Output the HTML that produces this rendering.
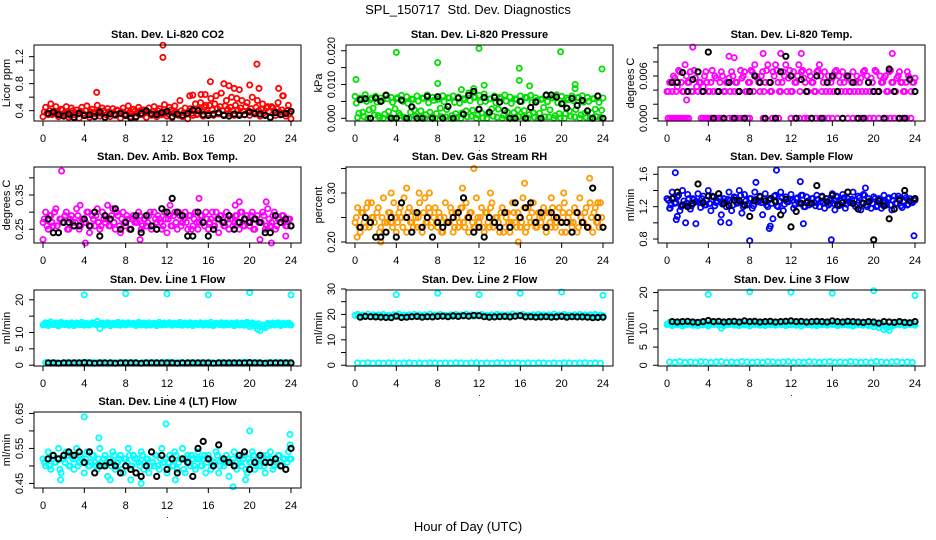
<!DOCTYPE html>
<html><head><meta charset="utf-8"><title>SPL_150717 Std. Dev. Diagnostics</title>
<style>
html,body{margin:0;padding:0;background:#fff;}
svg{display:block;font-family:"Liberation Sans",sans-serif;}
</style></head>
<body>
<svg id="chart" width="936" height="540" viewBox="0 0 936 540" xmlns="http://www.w3.org/2000/svg">
<rect x="0" y="0" width="936" height="540" fill="#fff"/>
<text x="468" y="14" font-size="13" text-anchor="middle">SPL_150717&#160;&#160;Std. Dev. Diagnostics</text>
<text x="468" y="531" font-size="13" text-anchor="middle">Hour of Day (UTC)</text>
</svg>
<script>
const hoursQ = [0,0.25,0.5,0.75,1,1.25,1.5,1.75,2,2.25,2.5,2.75,3,3.25,3.5,3.75,4,4.25,4.5,4.75,5,5.25,5.5,5.75,6,6.25,6.5,6.75,7,7.25,7.5,7.75,8,8.25,8.5,8.75,9,9.25,9.5,9.75,10,10.25,10.5,10.75,11,11.25,11.5,11.75,12,12.25,12.5,12.75,13,13.25,13.5,13.75,14,14.25,14.5,14.75,15,15.25,15.5,15.75,16,16.25,16.5,16.75,17,17.25,17.5,17.75,18,18.25,18.5,18.75,19,19.25,19.5,19.75,20,20.25,20.5,20.75,21,21.25,21.5,21.75,22,22.25,22.5,22.75,23,23.25,23.5,23.75,24];
const hoursQ2 = [0.125,0.375,0.625,0.875,1.125,1.375,1.625,1.875,2.125,2.375,2.625,2.875,3.125,3.375,3.625,3.875,4.125,4.375,4.625,4.875,5.125,5.375,5.625,5.875,6.125,6.375,6.625,6.875,7.125,7.375,7.625,7.875,8.125,8.375,8.625,8.875,9.125,9.375,9.625,9.875,10.125,10.375,10.625,10.875,11.125,11.375,11.625,11.875,12.125,12.375,12.625,12.875,13.125,13.375,13.625,13.875,14.125,14.375,14.625,14.875,15.125,15.375,15.625,15.875,16.125,16.375,16.625,16.875,17.125,17.375,17.625,17.875,18.125,18.375,18.625,18.875,19.125,19.375,19.625,19.875,20.125,20.375,20.625,20.875,21.125,21.375,21.625,21.875,22.125,22.375,22.625,22.875,23.125,23.375,23.625,23.875];
const hoursHalf = [0.5,1,1.5,2,2.5,3,3.5,4,4.5,5,5.5,6,6.5,7,7.5,8,8.5,9,9.5,10,10.5,11,11.5,12,12.5,13,13.5,14,14.5,15,15.5,16,16.5,17,17.5,18,18.5,19,19.5,20,20.5,21,21.5,22,22.5,23,23.5,24];
const hoursBase = [0.25,0.75,1.25,1.75,2.25,2.75,3.25,3.75,4.25,4.75,5.25,5.75,6.25,6.75,7.25,7.75,8.25,8.75,9.25,9.75,10.25,10.75,11.25,11.75,12.25,12.75,13.25,13.75,14.25,14.75,15.25,15.75,16.25,16.75,17.25,17.75,18.25,18.75,19.25,19.75,20.25,20.75,21.25,21.75,22.25,22.75,23.25,23.75];
const xTicks = [0,4,8,12,16,20,24];

// CO2
const co2Band = [0.31,0.45,0.34,0.50,0.36,0.46,0.31,0.42,0.35,0.46,0.30,0.44,0.34,0.41,0.29,0.45,0.33,0.47,0.30,0.42,
0.36,0.48,0.32,0.44,0.30,0.43,0.31,0.43,0.33,0.40,0.29,0.44,0.35,0.47,0.31,0.42,0.30,0.45,0.34,0.41,
0.30,0.44,0.33,0.46,0.31,0.43,0.34,0.49,0.32,0.45,0.30,0.47,0.35,0.55,0.31,0.44,0.28,0.43,0.33,0.50,
0.35,0.52,0.32,0.48,0.36,0.58,0.33,0.62,0.35,0.66,0.34,0.55,0.36,0.60,0.33,0.58,0.35,0.55,0.34,0.52,
0.33,0.60,0.35,0.55,0.32,0.50,0.34,0.46,0.30,0.44,0.33,0.52,0.35,0.62,0.32,0.48,0.28];
const co2Band2 = [0.38,0.36,0.40,0.34,0.39,0.37,0.35,0.41,0.36,0.38,0.33,0.40,0.37,0.35,0.39,0.36,0.40,0.34,0.38,0.37,
0.35,0.39,0.36,0.40,0.34,0.38,0.37,0.35,0.41,0.36,0.38,0.33,0.40,0.37,0.35,0.39,0.36,0.40,0.34,0.38,
0.37,0.35,0.39,0.36,0.40,0.34,0.38,0.37,0.35,0.41,0.36,0.38,0.33,0.40,0.37,0.35,0.39,0.36,0.40,0.34,
0.42,0.39,0.45,0.40,0.48,0.41,0.50,0.43,0.46,0.40,0.47,0.42,0.45,0.40,0.48,0.41,0.44,0.39,0.46,0.40,
0.43,0.38,0.45,0.40,0.42,0.37,0.44,0.39,0.46,0.40,0.43,0.38,0.41,0.37,0.40,0.36];
const co2OutHours = [5.2,11.6,11.6,14.2,14.5,15.3,15.7,16.2,17.5,18.0,18.5,19.0,20.0,20.7,20.9,22.8,23.2];
const co2OutVals = [0.67,1.37,1.19,0.62,0.63,0.64,0.64,0.83,0.80,0.77,0.73,0.71,0.78,1.09,0.73,0.73,0.62];
const co2Black = [0.36,0.38,0.34,0.32,0.35,0.30,0.36,0.33,0.34,0.31,0.38,0.30,0.35,0.34,0.36,0.33,0.29,0.31,0.36,0.40,0.35,0.34,0.37,0.39,0.31,0.35,0.33,0.36,0.41,0.40,0.34,0.33,0.35,0.37,0.33,0.32,0.35,0.33,0.34,0.38,0.36,0.35,0.33,0.30,0.37,0.34,0.36,0.39];

// Pressure
const presBand = [0.0065,0.0002,0.006,0.0018,0.007,0.0,0.0055,0.003,0.0065,0.0008,0.006,0.0,0.007,0.002,0.0062,0.0,0.0058,0.0015,0.0068,0.0003,
0.0064,0.0,0.0057,0.0025,0.0066,0.0005,0.006,0.0,0.0069,0.0018,0.0062,0.0,0.0056,0.003,0.0067,0.0004,0.0061,0.0,0.0066,0.0014,
0.0063,0.0,0.0058,0.0022,0.0075,0.0006,0.0062,0.0,0.0068,0.0016,0.0072,0.0,0.0057,0.0028,0.0066,0.0003,0.0062,0.0,0.0069,0.0019,
0.0063,0.0,0.0058,0.0025,0.0066,0.0005,0.0062,0.0,0.0068,0.0016,0.0061,0.0,0.0056,0.0032,0.0067,0.0004,0.0061,0.0,0.007,0.0014,
0.0065,0.0,0.006,0.0022,0.0066,0.0004,0.0061,0.0,0.0067,0.0015,0.0062,0.0,0.0058,0.0027,0.0066,0.0003,0.006];
const presBand2 = [0.0045,0.0015,0.0055,0.0005,0.005,0.0025,0.006,0.001,0.0048,0.0002,
0.0052,0.0012,0.0058,0.0004,0.0047,0.0028,0.0061,0.0009,0.005,0.0001,
0.0044,0.0018,0.0056,0.0006,0.0051,0.0022,0.0059,0.0011,0.0046,0.0003,
0.0053,0.0014,0.0057,0.0005,0.0049,0.0026,0.006,0.0008,0.0047,0.0002,
0.0045,0.0016,0.0055,0.0004,0.0052,0.0024,0.0062,0.001,0.0048,0.0001,
0.005,0.0013,0.0058,0.0006,0.0046,0.0027,0.0059,0.0009,0.0051,0.0002,
0.0044,0.0017,0.0056,0.0005,0.005,0.0023,0.0061,0.0011,0.0047,0.0003,
0.0053,0.0015,0.0057,0.0004,0.0049,0.0025,0.006,0.0008,0.0046,0.0001,
0.0045,0.0014,0.0055,0.0006,0.0052,0.0026,0.0062,0.001,0.0048,0.0002,
0.005,0.0016,0.0058,0.0005,0.0047,0.0024];
const presOutHours = [0.1,4.0,8.0,8.0,10.3,11.5,12.0,12.5,15.9,15.9,16.9,19.9,21.3,21.3,23.9];
const presOutVals = [0.0115,0.0195,0.0165,0.0103,0.0085,0.0088,0.0207,0.0098,0.0148,0.0112,0.0096,0.0197,0.0100,0.0088,0.0146];
const presBlack = [0.0055,0.0058,0.0,0.006,0.005,0.0068,0.0,0.0,0.0054,0.0,0.0034,0.0,0.0,0.0065,0.0,0.0064,0.0,0.0035,0.0,0.006,0.0012,0.0068,0.008,0.0027,0.0062,0.0018,0.0062,0.0048,0.0023,0.0,0.0,0.005,0.0,0.0032,0.0048,0.0,0.0069,0.0069,0.0063,0.0043,0.003,0.0059,0.0038,0.0053,0.0022,0.0,0.0066,0.0];

// Li-820 temp
const tempBand = [0.0038,0.0051,0.0038,0.0057,0.0045,0.0066,0.0038,0.0076,0.0051,0.0066,0.0038,0.0057,0.0038,0.0051,0.0045,0.0066,0.0038,0.0051,0.0038,0.0057,
0.0038,0.0066,0.0038,0.0051,0.0057,0.0066,0.0038,0.0051,0.0038,0.0057,0.0066,0.0038,0.0051,0.0066,0.0076,0.0057,0.0038,0.0066,0.0051,0.0076,
0.0038,0.0066,0.0076,0.0051,0.0038,0.0066,0.0076,0.0057,0.0038,0.0066,0.0051,0.0076,0.0066,0.0057,0.0038,0.0066,0.0051,0.0038,0.0066,0.0076,
0.0038,0.0066,0.0051,0.0038,0.0057,0.0066,0.0038,0.0051,0.0066,0.0038,0.0057,0.0038,0.0066,0.0051,0.0038,0.0057,0.0066,0.0038,0.0051,0.0057,
0.0038,0.0066,0.0038,0.0051,0.0057,0.0038,0.0066,0.0051,0.0038,0.0057,0.0066,0.0051,0.0038,0.0066,0.0057,0.0051,0.0057];
const tempBand2 = [0.0038,0.0051,0.0060,0.0038,0.0068,0.0051,0.0038,0.0060,0.0051,0.0038,0.0068,0.0045,
0.0051,0.0038,0.0060,0.0051,0.0038,0.0068,0.0060,0.0038,0.0051,0.0060,0.0038,0.0051,
0.0038,0.0060,0.0051,0.0038,0.0068,0.0060,0.0038,0.0051,0.0068,0.0038,0.0060,0.0051,
0.0060,0.0038,0.0068,0.0051,0.0038,0.0060,0.0068,0.0038,0.0051,0.0060,0.0038,0.0068,
0.0038,0.0051,0.0060,0.0038,0.0068,0.0051,0.0038,0.0060,0.0051,0.0038,0.0068,0.0060,
0.0051,0.0038,0.0060,0.0051,0.0038,0.0068,0.0060,0.0038,0.0051,0.0060,0.0038,0.0051,
0.0038,0.0060,0.0051,0.0038,0.0068,0.0060,0.0038,0.0051,0.0068,0.0038,0.0060,0.0051,
0.0060,0.0038,0.0068,0.0051,0.0038,0.0060,0.0051,0.0038,0.0051,0.0060,0.0038,0.0051];
const tempOutHours = [1.9,2.5,6.0,6.5,9.3,11.0,13.0,21.8];
const tempOutVals = [0.0026,0.0101,0.0088,0.0086,0.0092,0.0092,0.0092,0.0092];
const tempZeroHours = [0.1,0.3,0.5,0.7,0.9,1.1,1.3,1.5,1.7,1.9,2.1,3.3,3.5,3.7,3.9,4.1,4.3,4.5,4.7,4.9,5.1,5.3,6.0,6.3,6.6,6.9,7.2,7.5,7.8,8.0,9.3,9.5,10.2,10.5,10.8,12.0,12.4,12.8,13.3,13.6,14.0,14.4,14.8,15.2,15.6,16.0,16.5,17.0,17.5,18.0,18.4,18.8,19.2,19.6,20.0,20.5,21.2,21.6,22.0,22.4,22.8,23.2,23.6];
const tempZeroVals = [0,0,0,0,0,0,0,0,0,0,0,0,0,0,0,0,0,0,0,0,0,0,0,0,0,0,0,0,0,0,0,0,0,0,0,0,0,0,0,0,0,0,0,0,0,0,0,0,0,0,0,0,0,0,0,0,0,0,0,0,0,0,0];
const tempBlack = [0.0051,0.0051,0.0065,0.0038,0.0055,0.0066,0.0038,0.0094,0.0,0.0038,0.0,0.0051,0.0,0.0038,0.0,0.0038,0.0060,0.0051,0.0,0.0051,0.0,0.0066,0.0088,0.0060,0.0,0.0055,0.0038,0.0,0.0060,0.0,0.0051,0.0060,0.0038,0.0,0.0060,0.0051,0.0,0.0,0.0051,0.0038,0.0038,0.0,0.0070,0.0038,0.0,0.0,0.0055,0.0038];

// Amb box temp
const ambBand = [0.27,0.30,0.25,0.29,0.26,0.31,0.24,0.28,0.27,0.30,0.25,0.29,0.26,0.31,0.25,0.28,0.27,0.30,0.24,0.29,
0.26,0.31,0.25,0.30,0.27,0.32,0.26,0.31,0.25,0.29,0.24,0.30,0.26,0.28,0.25,0.29,0.27,0.30,0.25,0.28,
0.26,0.29,0.25,0.30,0.27,0.28,0.25,0.30,0.24,0.29,0.26,0.30,0.25,0.29,0.27,0.30,0.25,0.29,0.26,0.30,
0.25,0.29,0.27,0.30,0.25,0.28,0.26,0.30,0.24,0.29,0.26,0.30,0.25,0.28,0.27,0.29,0.25,0.30,0.26,0.29,
0.26,0.30,0.25,0.29,0.27,0.30,0.25,0.31,0.26,0.29,0.25,0.28,0.27,0.29,0.26,0.28,0.26];
const ambBand2 = [0.28,0.26,0.29,0.27,0.30,0.26,0.28,0.27,0.29,0.25,0.28,0.27,
0.27,0.29,0.26,0.28,0.27,0.30,0.26,0.28,0.29,0.27,0.26,0.28,
0.28,0.26,0.29,0.27,0.30,0.26,0.28,0.27,0.29,0.25,0.28,0.27,
0.27,0.29,0.26,0.28,0.27,0.30,0.26,0.28,0.29,0.27,0.26,0.28,
0.28,0.26,0.29,0.27,0.30,0.26,0.28,0.27,0.29,0.25,0.28,0.27,
0.27,0.29,0.26,0.28,0.27,0.30,0.26,0.28,0.29,0.27,0.26,0.28,
0.28,0.26,0.29,0.27,0.30,0.26,0.28,0.27,0.29,0.25,0.28,0.27,
0.27,0.29,0.26,0.28,0.27,0.30,0.26,0.28,0.29,0.27,0.26,0.28];
const ambOutHours = [0.0,1.8,4.1,3.6,9.4,12.3,15.1,18.6,19.0,21.0,21.6,22.1,23.5];
const ambOutVals = [0.22,0.42,0.21,0.32,0.22,0.32,0.34,0.32,0.33,0.22,0.33,0.21,0.23];
const ambBlack = [0.28,0.24,0.24,0.27,0.27,0.26,0.26,0.28,0.26,0.30,0.23,0.29,0.28,0.31,0.25,0.27,0.25,0.29,0.24,0.29,0.26,0.25,0.31,0.30,0.34,0.30,0.29,0.23,0.23,0.30,0.27,0.23,0.25,0.28,0.27,0.29,0.25,0.27,0.28,0.27,0.28,0.27,0.24,0.24,0.29,0.27,0.28,0.26];

// Gas stream RH
const rhBand = [0.24,0.27,0.22,0.26,0.23,0.28,0.24,0.25,0.21,0.27,0.23,0.29,0.22,0.26,0.24,0.28,0.22,0.26,0.25,0.29,
0.22,0.27,0.24,0.26,0.23,0.28,0.22,0.29,0.24,0.26,0.21,0.27,0.23,0.25,0.22,0.28,0.24,0.27,0.22,0.26,
0.23,0.27,0.24,0.28,0.22,0.26,0.23,0.29,0.24,0.27,0.22,0.26,0.23,0.28,0.24,0.25,0.22,0.27,0.23,0.26,
0.22,0.28,0.24,0.26,0.23,0.29,0.22,0.27,0.24,0.28,0.23,0.26,0.24,0.27,0.22,0.26,0.23,0.25,0.24,0.27,
0.22,0.28,0.24,0.26,0.23,0.27,0.22,0.29,0.24,0.26,0.23,0.28,0.22,0.27,0.24,0.28,0.23];
const rhBand2 = [0.25,0.23,0.26,0.24,0.27,0.23,0.25,0.24,0.26,0.22,0.25,0.24,
0.24,0.26,0.23,0.25,0.24,0.27,0.23,0.25,0.26,0.24,0.23,0.25,
0.25,0.23,0.26,0.24,0.27,0.23,0.25,0.24,0.26,0.22,0.25,0.24,
0.24,0.26,0.23,0.25,0.24,0.27,0.23,0.25,0.26,0.24,0.23,0.25,
0.25,0.23,0.26,0.24,0.27,0.23,0.25,0.24,0.26,0.22,0.25,0.24,
0.24,0.26,0.23,0.25,0.24,0.27,0.23,0.25,0.26,0.24,0.23,0.25,
0.25,0.23,0.26,0.24,0.27,0.23,0.25,0.24,0.26,0.22,0.25,0.24,
0.24,0.26,0.23,0.25,0.24,0.27,0.23,0.25,0.26,0.24,0.23,0.25];
const rhOutHours = [0.2,1.6,2.5,3.5,5.0,6.2,7.2,10.4,11.5,13.1,15.8,16.4,19.0,20.2,22.7,23.5];
const rhOutVals = [0.21,0.28,0.20,0.30,0.31,0.30,0.30,0.31,0.35,0.30,0.20,0.32,0.29,0.30,0.33,0.28];
const rhBlack = [0.23,0.25,0.24,0.21,0.21,0.22,0.25,0.21,0.28,0.25,0.22,0.26,0.23,0.25,0.21,0.24,0.23,0.24,0.25,0.26,0.29,0.25,0.22,0.23,0.21,0.25,0.24,0.23,0.26,0.23,0.28,0.25,0.27,0.28,0.24,0.26,0.23,0.26,0.25,0.24,0.24,0.22,0.26,0.24,0.23,0.31,0.25,0.23];

// Sample flow
const sfBand = [1.30,1.18,1.38,1.24,1.32,1.15,1.40,1.22,1.35,1.17,1.30,1.26,1.36,1.19,1.33,1.22,1.40,1.15,1.32,1.25,
1.36,1.10,1.30,1.20,1.38,1.15,1.32,1.24,1.40,1.12,1.35,1.22,1.30,1.18,1.38,1.26,1.33,1.10,1.36,1.20,
1.30,1.05,1.34,1.20,1.38,1.15,1.32,1.26,1.35,1.18,1.30,1.24,1.34,1.20,1.32,1.22,1.30,1.25,1.34,1.20,
1.33,1.18,1.30,1.24,1.36,1.16,1.32,1.22,1.35,1.18,1.30,1.25,1.38,1.20,1.33,1.16,1.35,1.22,1.30,1.18,
1.32,1.20,1.30,1.18,1.34,1.22,1.31,1.16,1.33,1.24,1.30,1.19,1.34,1.22,1.30,1.25,1.28];
const sfBand2 = [1.28,1.22,1.31,1.25,1.34,1.20,1.27,1.24,1.30,1.21,1.29,1.26,
1.25,1.30,1.22,1.28,1.24,1.33,1.21,1.27,1.31,1.23,1.26,1.29,
1.28,1.22,1.31,1.25,1.34,1.20,1.27,1.24,1.30,1.21,1.29,1.26,
1.25,1.30,1.22,1.28,1.24,1.33,1.21,1.27,1.31,1.23,1.26,1.29,
1.28,1.22,1.31,1.25,1.34,1.20,1.27,1.24,1.30,1.21,1.29,1.26,
1.25,1.30,1.22,1.28,1.24,1.33,1.21,1.27,1.31,1.23,1.26,1.29,
1.28,1.22,1.31,1.25,1.34,1.20,1.27,1.24,1.30,1.21,1.29,1.26,
1.25,1.30,1.22,1.28,1.24,1.33,1.21,1.27,1.31,1.23,1.26,1.29];
const sfOutHours = [0.8,0.9,1.0,0.3,1.8,2.8,5.2,6.0,8.0,8.6,9.9,10.0,10.6,12.9,13.2,15.9,16.2,19.2,23.9];
const sfOutVals = [1.62,1.04,1.08,1.18,1.00,0.99,1.01,1.00,0.78,1.50,0.93,0.96,1.65,1.51,0.99,0.79,1.28,1.43,0.84];
const sfBlack = [1.30,1.38,1.22,1.20,1.24,1.48,1.25,1.33,1.32,1.36,1.24,1.21,1.28,1.27,1.22,1.08,1.27,1.32,1.27,1.30,1.26,1.10,1.29,0.95,1.14,1.24,1.25,1.24,1.46,1.32,1.26,1.34,1.22,1.25,1.38,1.24,1.17,1.24,1.26,0.79,1.27,1.21,1.05,1.17,1.28,1.40,1.27,1.30];

// Line 1
const l1Band = [12.3,13.0,12.1,13.2,12.4,12.9,12.0,13.1,12.5,12.8,12.2,13.0,12.1,12.9,12.4,13.1,12.2,12.8,12.3,13.0,
12.6,13.4,11.2,12.9,12.3,13.0,12.1,12.8,12.4,13.1,12.2,12.9,12.3,13.0,12.5,12.8,12.1,13.1,12.3,12.9,
12.2,13.0,12.4,12.8,12.1,13.1,12.3,12.9,12.5,13.0,12.2,12.8,12.4,13.1,12.2,12.9,12.3,13.0,12.1,12.8,
12.4,13.0,12.2,12.9,12.3,13.1,12.1,12.8,12.5,13.0,12.2,12.9,12.4,12.8,12.1,13.0,12.3,12.9,12.2,13.1,
11.8,12.9,12.0,11.0,10.6,12.3,11.5,12.8,12.2,12.9,12.3,13.0,12.1,12.8,12.4,12.9,12.3];
const l1Band2 = [12.6,12.4,12.7,12.5,12.6,12.3,12.7,12.5,12.4,12.6,12.5,12.7,
12.5,12.7,12.4,12.6,12.5,12.3,12.6,12.7,12.4,12.5,12.6,12.4,
12.6,12.4,12.7,12.5,12.6,12.3,12.7,12.5,12.4,12.6,12.5,12.7,
12.5,12.7,12.4,12.6,12.5,12.3,12.6,12.7,12.4,12.5,12.6,12.4,
12.6,12.4,12.7,12.5,12.6,12.3,12.7,12.5,12.4,12.6,12.5,12.7,
12.5,12.7,12.4,12.6,12.5,12.3,12.6,12.7,12.4,12.5,12.6,12.4,
12.6,12.4,12.7,12.5,12.6,12.3,12.7,12.5,12.4,12.6,12.5,12.7,
12.0,12.2,11.8,12.4,12.5,12.3,12.6,12.7,12.4,12.5,12.6,12.4];
const l1Base = [0.8,0.7,0.8,0.6,0.8,0.7,0.8,0.7,0.9,0.8,0.7,0.8,0.6,0.8,0.7,0.8,0.7,0.8,0.6,0.8,0.7,0.8,0.7,0.8,0.9,0.7,0.8,0.6,0.8,0.7,0.8,0.7,0.8,0.6,0.8,0.7,0.8,0.7,0.8,0.9,0.7,0.8,0.6,0.8,0.7,0.8,0.7,0.8];
const l1OutHours = [4,8,12,16,20,24];
const l1OutVals = [21.5,21.9,21.8,21.5,22.2,21.5];
const l1Black = [0.7,0.7,0.6,0.7,0.7,0.7,0.7,0.8,0.7,0.6,0.7,0.7,0.7,0.6,0.7,0.7,0.7,0.7,0.6,0.7,0.7,0.7,0.7,0.7,0.7,0.6,0.7,0.7,0.7,0.7,0.7,0.7,0.6,0.7,0.7,0.7,0.7,0.7,0.7,0.8,0.7,0.7,0.6,0.7,0.7,0.7,0.7,0.7];

// Line 2
const l2Band = [19.6,20.0,19.4,19.8,19.5,20.1,19.3,19.9,19.6,19.8,19.4,20.0,19.5,19.7,19.3,19.9,19.6,20.1,19.4,19.8,
19.5,19.9,19.3,20.0,19.6,19.8,19.4,19.9,19.5,20.1,19.3,19.8,19.6,20.0,19.4,19.7,19.5,19.9,19.3,20.0,
19.6,19.8,19.4,20.1,19.5,19.9,19.3,19.8,19.6,20.0,19.4,19.7,19.5,19.9,19.3,20.0,19.6,19.8,19.4,19.9,
19.5,20.1,19.3,19.8,19.6,20.0,19.4,19.7,19.5,19.9,19.3,20.0,19.6,19.8,19.4,19.9,19.5,20.1,19.3,19.8,
19.6,20.0,19.4,19.7,19.5,19.9,19.3,20.0,19.6,19.8,19.4,19.9,19.5,20.0,19.3,19.8,19.5];
const l2Base = [0.9,0.8,1.0,0.8,0.9,0.8,1.0,0.9,0.8,0.9,1.0,0.8,0.9,0.8,1.0,0.9,0.8,0.9,0.8,1.0,0.9,0.8,0.9,1.0,0.8,0.9,0.8,1.0,0.9,0.8,0.9,1.0,0.8,0.9,0.8,1.0,0.9,0.8,0.9,0.8,1.0,0.9,0.8,0.9,1.0,0.8,0.9,0.8];
const l2OutHours = [4,8,12,16,20,24];
const l2OutVals = [27.8,28.3,27.8,28.3,28.8,27.5];
const l2Black = [18.9,19.2,19.1,19.0,18.9,18.8,18.7,19.3,18.8,18.9,19.1,19.2,18.9,19.1,19.0,19.2,19.3,19.1,19.4,19.2,19.5,19.3,19.6,19.5,19.1,18.9,19.0,19.1,19.2,19.0,19.3,19.5,19.0,19.1,18.9,19.0,19.1,18.9,19.0,19.2,18.9,19.1,19.0,19.0,18.9,18.7,18.8,18.9];

// Line 3
const l3Band = [11.2,11.8,10.9,11.6,11.1,11.9,10.8,11.5,11.2,11.7,11.0,11.8,10.9,11.6,11.1,11.5,10.8,11.7,11.2,11.6,
11.0,10.2,10.9,11.6,11.2,11.8,11.0,11.5,10.9,11.7,11.1,11.6,10.8,11.8,11.2,11.5,11.0,11.7,10.9,11.6,
11.1,11.8,11.0,11.5,11.2,11.7,10.9,11.6,11.1,11.8,11.0,11.5,10.8,11.7,11.2,11.6,11.0,11.8,10.9,11.5,
11.1,11.7,11.0,11.6,11.2,11.8,10.9,11.5,11.1,11.7,11.0,11.6,10.8,11.8,11.2,11.5,11.0,11.7,10.9,11.6,
10.6,11.5,10.4,11.0,9.8,10.2,9.6,10.8,11.0,11.6,11.1,11.7,10.9,11.5,11.2,11.6,11.0];
const l3Band2 = [11.3,11.4,11.2,11.5,11.3,11.4,11.2,11.3,11.5,11.3,11.4,11.2,
11.4,11.2,11.5,11.3,11.2,11.4,11.3,11.5,11.2,11.4,11.3,11.2,
11.3,11.4,11.2,11.5,11.3,11.4,11.2,11.3,11.5,11.3,11.4,11.2,
11.4,11.2,11.5,11.3,11.2,11.4,11.3,11.5,11.2,11.4,11.3,11.2,
11.3,11.4,11.2,11.5,11.3,11.4,11.2,11.3,11.5,11.3,11.4,11.2,
11.4,11.2,11.5,11.3,11.2,11.4,11.3,11.5,11.2,11.4,11.3,11.2,
11.3,11.4,11.2,11.5,11.3,11.4,11.2,11.3,11.5,11.3,11.4,11.2,
11.0,10.8,10.6,10.9,11.2,11.4,11.3,11.5,11.2,11.4,11.3,11.2];
const l3Base = [0.9,0.8,1.0,0.8,0.9,0.8,1.0,0.9,0.8,0.9,1.0,0.8,0.9,0.8,1.0,0.9,0.8,0.9,0.8,1.0,0.9,0.8,0.9,1.0,0.8,0.9,0.8,1.0,0.9,0.8,0.9,1.0,0.8,0.9,0.8,1.0,0.9,0.8,0.9,0.8,1.0,0.9,0.8,0.9,1.0,0.8,0.9,0.8];
const l3OutHours = [4,8,12,16,20,24];
const l3OutVals = [19.5,20.2,20.1,19.8,20.5,19.2];
const l3Black = [12.0,11.9,12.0,12.1,11.9,11.8,12.0,12.3,12.0,12.1,11.9,12.0,12.1,11.9,12.2,12.0,12.1,11.9,12.0,12.1,11.9,12.0,12.1,12.2,12.0,12.1,11.9,12.0,12.1,12.0,11.9,12.2,12.0,11.9,12.1,12.0,11.9,11.8,12.0,11.9,11.6,12.0,11.9,11.8,12.0,11.8,11.7,12.0];

// Line 4
const l4Band = [0.52,0.50,0.54,0.49,0.53,0.51,0.55,0.48,0.52,0.54,0.50,0.53,0.49,0.55,0.51,0.52,0.48,0.54,0.50,0.53,
0.51,0.49,0.55,0.50,0.53,0.47,0.52,0.54,0.49,0.51,0.53,0.48,0.52,0.55,0.50,0.53,0.48,0.51,0.54,0.49,
0.52,0.48,0.54,0.50,0.53,0.49,0.55,0.51,0.48,0.53,0.50,0.54,0.49,0.52,0.55,0.48,0.53,0.50,0.52,0.49,
0.54,0.50,0.52,0.48,0.53,0.49,0.51,0.54,0.48,0.52,0.50,0.53,0.47,0.51,0.54,0.49,0.52,0.50,0.53,0.48,
0.51,0.54,0.49,0.52,0.50,0.53,0.48,0.52,0.54,0.49,0.51,0.53,0.50,0.52,0.49,0.54,0.52];
const l4Band2 = [0.51,0.52,0.50,0.53,0.51,0.52,0.49,0.52,0.51,0.53,0.50,0.52,
0.52,0.50,0.53,0.51,0.52,0.50,0.51,0.53,0.50,0.52,0.51,0.52,
0.51,0.52,0.50,0.53,0.51,0.52,0.49,0.52,0.51,0.53,0.50,0.52,
0.52,0.50,0.53,0.51,0.52,0.50,0.51,0.53,0.50,0.52,0.51,0.52,
0.51,0.52,0.50,0.53,0.51,0.52,0.49,0.52,0.51,0.53,0.50,0.52,
0.52,0.50,0.53,0.51,0.52,0.50,0.51,0.53,0.50,0.52,0.51,0.52,
0.51,0.52,0.50,0.53,0.51,0.52,0.49,0.52,0.51,0.53,0.50,0.52,
0.52,0.50,0.53,0.51,0.52,0.50,0.51,0.53,0.50,0.52,0.51,0.52];
const l4OutHours = [1.7,4.0,5.4,6.5,8.5,9.5,11.9,12.8,18.4,19.6,20.0,23.9,23.9];
const l4OutVals = [0.46,0.64,0.58,0.46,0.46,0.45,0.62,0.46,0.44,0.46,0.60,0.59,0.56];
const l4Black = [0.52,0.53,0.52,0.53,0.54,0.53,0.54,0.51,0.54,0.48,0.50,0.50,0.51,0.50,0.48,0.50,0.49,0.48,0.47,0.50,0.54,0.47,0.53,0.49,0.52,0.48,0.52,0.51,0.47,0.55,0.57,0.52,0.50,0.56,0.52,0.51,0.50,0.53,0.54,0.49,0.51,0.53,0.51,0.51,0.52,0.50,0.49,0.55];

const NS = 'http://www.w3.org/2000/svg';
const svg = document.getElementById('chart');
const CYAN = '#00ffff';

const panels = [
 {key:'co2', title:'Stan. Dev. Li-820 CO2', ylab:'Licor ppm', col:0,row:0, ymin:0.247,ymax:1.373, ticks:[0.4,0.6,0.8,1.0,1.2], labels:['0.4','','0.8','','1.2'], color:'#ff0000',
  series:[[hoursQ,co2Band,'c'],[hoursQ2,co2Band2,'c'],[co2OutHours,co2OutVals,'c'],[hoursHalf,co2Black,'k']]},
 {key:'pressure', title:'Stan. Dev. Li-820 Pressure', ylab:'kPa', col:1,row:0, ymin:-0.0008,ymax:0.0217, ticks:[0,0.005,0.01,0.015,0.02], labels:['0.000','','0.010','','0.020'], color:'#00e000',
  series:[[hoursQ,presBand,'c'],[hoursQ2,presBand2,'c'],[presOutHours,presOutVals,'c'],[hoursHalf,presBlack,'k']]},
 {key:'li820-temp', title:'Stan. Dev. Li-820 Temp.', ylab:'degrees C', col:2,row:0, ymin:-0.00038,ymax:0.0104, ticks:[0,0.002,0.004,0.006,0.008,0.010], labels:['0.000','','','0.006','',''], color:'#ff00ff',
  series:[[hoursQ,tempBand,'c'],[hoursQ2,tempBand2,'c'],[tempOutHours,tempOutVals,'c'],[tempZeroHours,tempZeroVals,'c'],[hoursHalf,tempBlack,'k']]},
 {key:'amb-box-temp', title:'Stan. Dev. Amb. Box Temp.', ylab:'degrees C', col:0,row:1, ymin:0.210,ymax:0.4316, ticks:[0.25,0.30,0.35,0.40], labels:['0.25','','0.35',''], color:'#ff00ff',
  series:[[hoursQ,ambBand,'c'],[hoursQ2,ambBand2,'c'],[ambOutHours,ambOutVals,'c'],[hoursHalf,ambBlack,'k']]},
 {key:'gas-stream-rh', title:'Stan. Dev. Gas Stream RH', ylab:'percent', col:1,row:1, ymin:0.198,ymax:0.353, ticks:[0.20,0.25,0.30,0.35], labels:['0.20','','0.30',''], color:'#ff9900',
  series:[[hoursQ,rhBand,'c'],[hoursQ2,rhBand2,'c'],[rhOutHours,rhOutVals,'c'],[hoursHalf,rhBlack,'k']]},
 {key:'sample-flow', title:'Stan. Dev. Sample Flow', ylab:'ml/min', col:2,row:1, ymin:0.751,ymax:1.690, ticks:[0.8,1.0,1.2,1.4,1.6], labels:['0.8','','1.2','','1.6'], color:'#0000ff',
  series:[[hoursQ,sfBand,'c'],[hoursQ2,sfBand2,'c'],[sfOutHours,sfOutVals,'c'],[hoursHalf,sfBlack,'k']]},
 {key:'line1-flow', title:'Stan. Dev. Line 1 Flow', ylab:'ml/min', col:0,row:2, ymin:-0.25,ymax:23.0, ticks:[0,5,10,15,20], labels:['0','5','10','','20'], color:CYAN,
  series:[[hoursQ,l1Band,'c'],[hoursQ2,l1Band2,'c'],[hoursBase,l1Base,'c'],[l1OutHours,l1OutVals,'c'],[hoursHalf,l1Black,'k']]},
 {key:'line2-flow', title:'Stan. Dev. Line 2 Flow', ylab:'ml/min', col:1,row:2, ymin:-0.3,ymax:29.6, ticks:[0,5,10,15,20,25,30], labels:['0','','10','','20','','30'], color:CYAN,
  series:[[hoursQ,l2Band,'c'],[hoursBase,l2Base,'c'],[l2OutHours,l2OutVals,'c'],[hoursHalf,l2Black,'k']]},
 {key:'line3-flow', title:'Stan. Dev. Line 3 Flow', ylab:'ml/min', col:2,row:2, ymin:-0.2,ymax:20.7, ticks:[0,5,10,15,20], labels:['0','5','10','','20'], color:CYAN,
  series:[[hoursQ,l3Band,'c'],[hoursQ2,l3Band2,'c'],[hoursBase,l3Base,'c'],[l3OutHours,l3OutVals,'c'],[hoursHalf,l3Black,'k']]},
 {key:'line4-flow', title:'Stan. Dev. Line 4 (LT) Flow', ylab:'ml/min', col:0,row:3, ymin:0.437,ymax:0.654, ticks:[0.45,0.50,0.55,0.60,0.65], labels:['0.45','','0.55','','0.65'], color:CYAN,
  series:[[hoursQ,l4Band,'c'],[hoursQ2,l4Band2,'c'],[l4OutHours,l4OutVals,'c'],[hoursHalf,l4Black,'k']]}
];

const rowTops = [45,167,290,412];
const BOX_W = 267, BOX_H = 76;

function mk(tag, attrs, parent){
  const e = document.createElementNS(NS, tag);
  for (const k in attrs) e.setAttribute(k, attrs[k]);
  parent.appendChild(e);
  return e;
}

panels.forEach(p => {
  const left = 34 + 312*p.col, top = rowTops[p.row], bottom = top + BOX_H;
  const x0 = left + 9;
  const xs = h => x0 + h * (248/24);
  const ys = v => bottom - (v - p.ymin) / (p.ymax - p.ymin) * BOX_H;
  const g = mk('g', {}, svg);
  
  

  const title = mk('text', {x: left + BOX_W/2, y: top - 7, 'font-size': 11, 'font-weight': 'bold', 'text-anchor': 'middle'}, g);
  
  
  title.textContent = p.title;

  const mg = mk('g', {}, g);
  
  
  p.series.forEach(s => {
    const hs = s[0], vs = s[1], isBlack = s[2] === 'k';
    for (let i = 0; i < vs.length && i < hs.length; i++) {
      const c = mk('circle', {cx: xs(hs[i]).toFixed(1), cy: ys(vs[i]).toFixed(1), r: 2.6, fill: 'none', stroke: isBlack ? '#000' : p.color, 'stroke-width': isBlack ? 2 : 1.8}, mg);
      
      
    }
  });

  const box = mk('rect', {x: left, y: top, width: BOX_W, height: BOX_H, fill: 'none', stroke: '#000', 'stroke-width': 1}, g);
  
  

  const xa = mk('g', {}, g);
  
  
  mk('line', {x1: xs(xTicks[0]), x2: xs(xTicks[xTicks.length-1]), y1: bottom, y2: bottom, stroke: '#000'}, xa);
  xTicks.forEach(t => {
    mk('line', {x1: xs(t), x2: xs(t), y1: bottom, y2: bottom + 5, stroke: '#000'}, xa);
    const tl = mk('text', {x: xs(t), y: bottom + 21, 'font-size': 11, 'text-anchor': 'middle'}, xa);
    
    
    tl.textContent = t;
  });
  const dot = mk('text', {x: left + BOX_W/2, y: bottom + 30, 'font-size': 9, 'text-anchor': 'middle'}, xa);
  
  
  dot.textContent = '.';

  const ya = mk('g', {}, g);
  
  
  mk('line', {x1: left, x2: left, y1: ys(p.ticks[0]), y2: ys(p.ticks[p.ticks.length-1]), stroke: '#000'}, ya);
  p.ticks.forEach((t, i) => {
    const y = ys(t);
    mk('line', {x1: left - 5, x2: left, y1: y, y2: y, stroke: '#000'}, ya);
    if (p.labels[i]) {
      const tl = mk('text', {x: 0, y: 0, 'font-size': 11, 'text-anchor': 'middle', transform: `translate(${left - 11},${y}) rotate(-90)`}, ya);
      
      
      tl.textContent = p.labels[i];
    }
  });
  const yl = mk('text', {x: 0, y: 0, 'font-size': 11, 'text-anchor': 'middle', transform: `translate(${left - 24},${top + BOX_H/2}) rotate(-90)`}, ya);
  
  
  yl.textContent = p.ylab;
});
</script>
</body></html>
